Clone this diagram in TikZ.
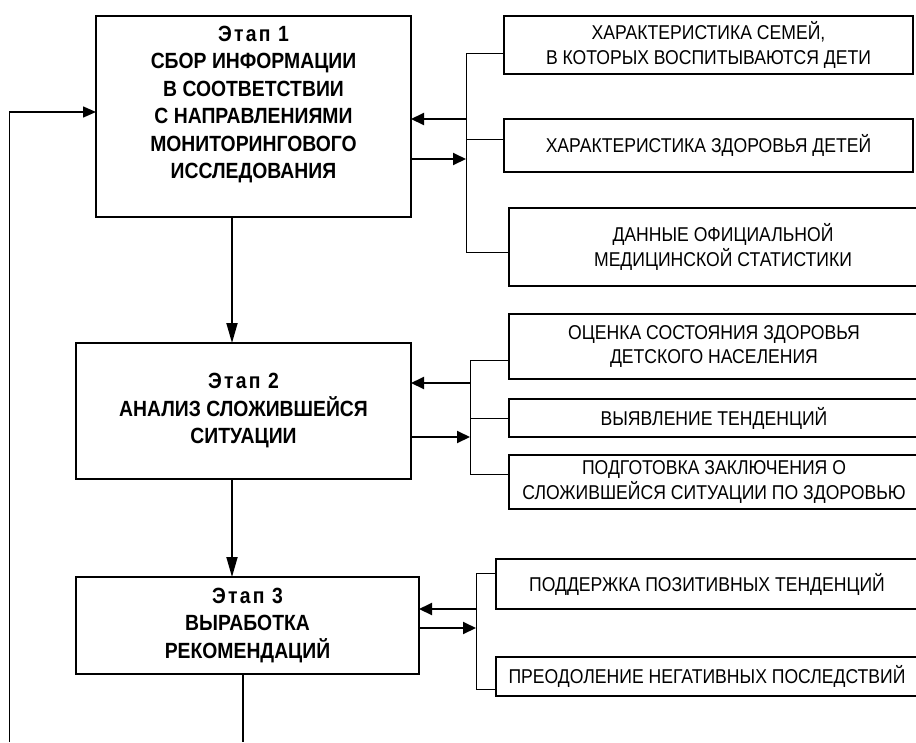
\documentclass[tikz,border=0pt]{standalone}
\usepackage{fontspec}
\setmainfont{Liberation Sans}[FakeStretch=0.88]
\newfontfamily\etapfont{Liberation Sans}[FakeStretch=0.88,LetterSpace=10]
\usetikzlibrary{arrows.meta}
\newcommand\stagehead[1]{{\etapfont\bfseries #1}}

\begin{document}
\begin{tikzpicture}[x=1pt,y=-1pt,
  stage/.style={draw,line width=1.3pt,inner sep=0pt,outer sep=0pt,align=center,
    font=\fontsize{22}{27.5}\selectfont\bfseries},
  item/.style={draw,line width=1.2pt,inner sep=0pt,outer sep=0pt,align=center,
    font=\fontsize{20}{24.5}\selectfont},
  bus/.style={line width=1pt},
  flow/.style={line width=1.8pt,-{Triangle[length=20pt,width=11pt]}},
  arr/.style={line width=2pt,-{Triangle[length=13pt,width=12pt]}}]
  \useasboundingbox (0,0) rectangle (916,742);
  \clip (0,0) rectangle (916,742);

  \node[stage,minimum width=315pt,minimum height=201pt] (st1) at (253.5,116.5)
    {\parbox[c][201pt][t]{305pt}{\centering\vspace*{10pt}\stagehead{Этап 1}\\
     СБОР ИНФОРМАЦИИ\\ В СООТВЕТСТВИИ\\ С НАПРАВЛЕНИЯМИ\\
     МОНИТОРИНГОВОГО\\ ИССЛЕДОВАНИЯ}};
  \node[stage,minimum width=335pt,minimum height=136pt] (st2) at (243.5,411)
    {\stagehead{Этап 2}\\ АНАЛИЗ СЛОЖИВШЕЙСЯ\\ СИТУАЦИИ};
  \node[stage,minimum width=343pt,minimum height=97pt] (st3) at (247.5,625.5)
    {\stagehead{Этап 3}\\ ВЫРАБОТКА\\ РЕКОМЕНДАЦИЙ};

  \node[item,minimum width=409pt,minimum height=58pt] (it1) at (708.5,45)
    {ХАРАКТЕРИСТИКА СЕМЕЙ,\\ В КОТОРЫХ ВОСПИТЫВАЮТСЯ ДЕТИ};
  \node[item,minimum width=409pt,minimum height=53pt] (it2) at (708.5,145.5)
    {ХАРАКТЕРИСТИКА ЗДОРОВЬЯ ДЕТЕЙ};
  \node[item,minimum width=428pt,minimum height=78pt] (it3) at (723,247)
    {ДАННЫЕ ОФИЦИАЛЬНОЙ\\ МЕДИЦИНСКОЙ СТАТИСТИКИ};
  \node[item,minimum width=410pt,minimum height=65pt] (it4) at (714,346.5)
    {ОЦЕНКА СОСТОЯНИЯ ЗДОРОВЬЯ\\ ДЕТСКОГО НАСЕЛЕНИЯ};
  \node[item,minimum width=410pt,minimum height=38pt] (it5) at (714,418)
    {ВЫЯВЛЕНИЕ ТЕНДЕНЦИЙ};
  \node[item,minimum width=410pt,minimum height=54pt] (it6) at (714,482)
    {ПОДГОТОВКА ЗАКЛЮЧЕНИЯ О\\ СЛОЖИВШЕЙСЯ СИТУАЦИИ ПО ЗДОРОВЬЮ};
  \node[item,minimum width=422pt,minimum height=50pt] (it7) at (707,584)
    {ПОДДЕРЖКА ПОЗИТИВНЫХ ТЕНДЕНЦИЙ};
  \node[item,minimum width=422pt,minimum height=39pt] (it8) at (707,676.5)
    {ПРЕОДОЛЕНИЕ НЕГАТИВНЫХ ПОСЛЕДСТВИЙ};

  \coordinate (b1t) at (466,53);
  \coordinate (b1m) at (466,139);
  \coordinate (b1b) at (466,252);
  \coordinate (in1) at (466,119);
  \coordinate (out1) at (466,159);
  \coordinate (b2t) at (470,360);
  \coordinate (b2m) at (470,418);
  \coordinate (b2b) at (470,474);
  \coordinate (in2) at (470,383);
  \coordinate (out2) at (470,437);
  \coordinate (b3t) at (476,573);
  \coordinate (b3b) at (476,689);
  \coordinate (in3) at (477,609);
  \coordinate (out3) at (476,628);
  \coordinate (c12) at (232,0);
  \coordinate (tail) at (243,742);
  \coordinate (fb) at (9.5,742);
  \coordinate (fbin) at (0,112);

  \draw[bus] (b1t) -- (b1b);
  \draw[bus] (b1t) -- (it1.west |- b1t);
  \draw[bus] (b1m) -- (it2.west |- b1m);
  \draw[bus] (b1b) -- (it3.west |- b1b);
  \draw[arr] (in1) -- (in1 -| st1.east);
  \draw[arr] (st1.east |- out1) -- (out1);

  \draw[bus] (b2t) -- (b2b);
  \draw[bus] (b2t) -- (it4.west |- b2t);
  \draw[bus] (b2m) -- (it5.west |- b2m);
  \draw[bus] (b2b) -- (it6.west |- b2b);
  \draw[arr] (in2) -- (in2 -| st2.east);
  \draw[arr] (st2.east |- out2) -- (out2);

  \draw[bus] (b3t) -- (b3b);
  \draw[bus] (b3t) -- (it7.west |- b3t);
  \draw[bus] (b3b) -- (it8.west |- b3b);
  \draw[arr] (in3) -- (in3 -| st3.east);
  \draw[arr] (st3.east |- out3) -- (out3);

  \draw[flow] (st1.south -| c12) -- (st2.north -| c12);
  \draw[flow] (st2.south -| c12) -- (st3.north -| c12);
  \draw[line width=1.3pt] (st3.south -| tail) -- (tail);
  \draw[line width=1.5pt,-{Triangle[length=13pt,width=11pt]}] (fb) |- (st1.west |- fbin);
\end{tikzpicture}
\end{document}
